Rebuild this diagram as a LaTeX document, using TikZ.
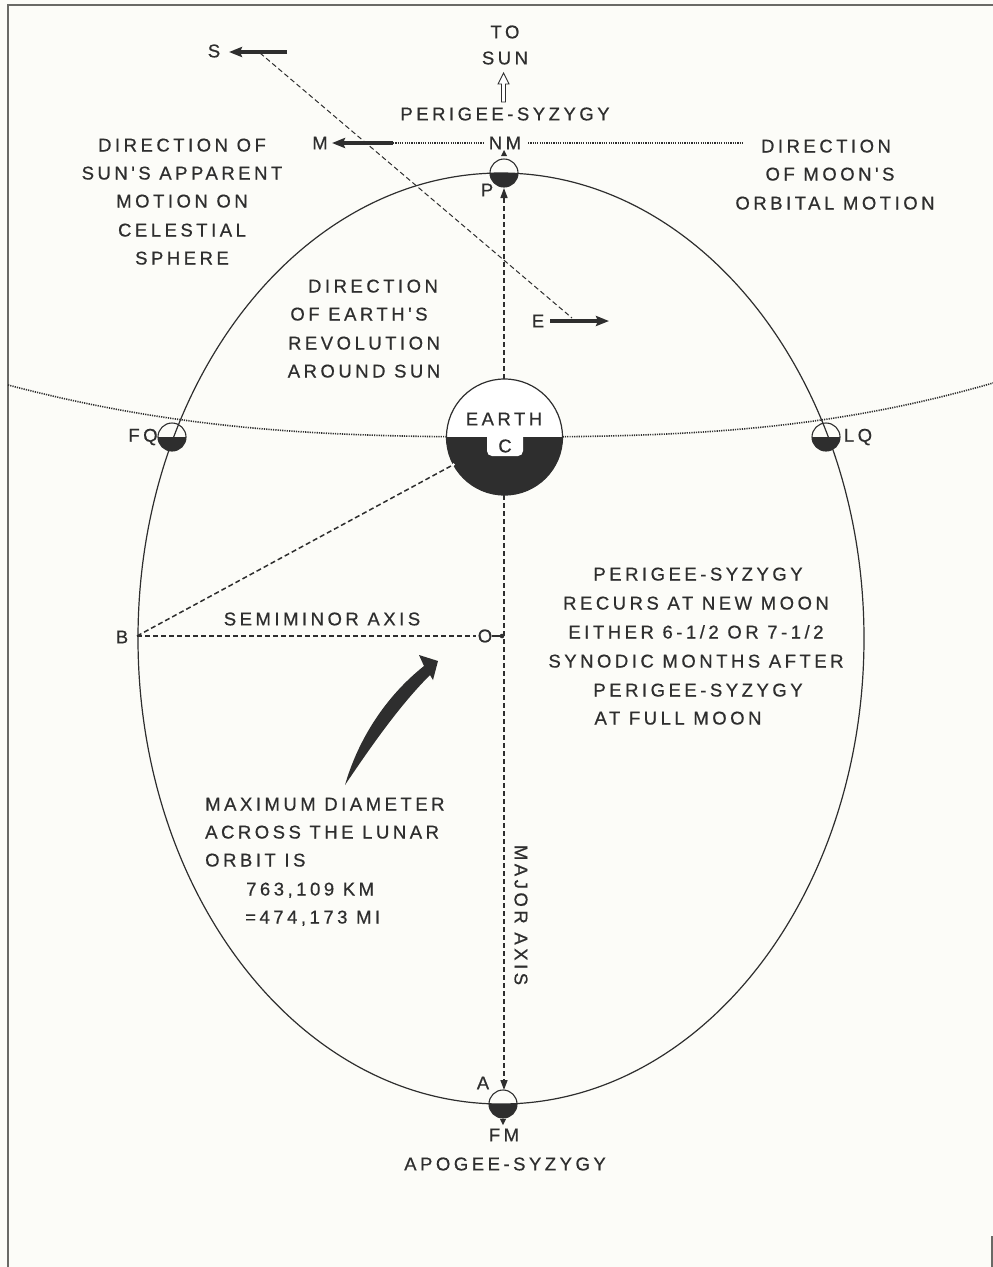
\documentclass[tikz,border=0pt]{standalone}
\usepackage{fontspec}
\setmainfont{Liberation Sans}
\newfontfamily\lab[LetterSpace=19, FakeBold=0.6]{Liberation Sans}
\usetikzlibrary{arrows.meta,calc}
\definecolor{ink}{HTML}{2E2E2E}
\definecolor{paper}{HTML}{FCFCF8}
\definecolor{frame}{HTML}{6A6A66}
\tikzset{
  lbl/.style={font=\lab\fontsize{18.5}{28}\selectfont, text=ink, inner sep=0pt},
  bl/.style={lbl, anchor=base},
  blw/.style={lbl, anchor=base west},
  orbit/.style={draw=ink, line width=1.2pt},
  dots/.style={draw=ink, line width=1.6pt, dash pattern=on 1.2pt off 1.1pt},
  axisdash/.style={draw=ink, line width=1.5pt, dash pattern=on 5pt off 3pt},
  thindash/.style={draw=ink, line width=1pt, dash pattern=on 5pt off 3pt},
  fatarrow/.style={draw=ink, line width=4.5pt, -{Stealth[length=13pt,width=10pt,inset=2pt]}},
  axtip/.style={-{Triangle[length=10pt,width=7pt]}},
}
\begin{document}
\begin{tikzpicture}[x=1pt,y=-1pt]
\fill[paper] (0,0) rectangle (993,1267);
\useasboundingbox (0,0) rectangle (993,1267);
% frame
\draw[frame, line width=1.6pt] (8,1267) -- (8,5) -- (993,5);
\draw[frame, line width=1.6pt] (992,1236) -- (992,1267);

% key coordinates
\coordinate (C) at (504.5,437);
\coordinate (Pm) at (504,173);
\coordinate (Am) at (503,1104);
\coordinate (FQm) at (172,437);
\coordinate (LQm) at (826,437);
\coordinate (B) at (137,636);
\coordinate (Odot) at (502,636);
\coordinate (Oend) at (476,636);
\coordinate (EB) at ($(C)!58pt!(B)$);
\coordinate (Etop) at (504,379);
\coordinate (Ebot) at (504,495);
\coordinate (Ptip) at (504,188);
\coordinate (Atip) at (504,1090);

% ecliptic
\draw[dots] (8,385) .. controls (180,430) and (320,437) .. (505,437)
            .. controls (690,437) and (830,430) .. (993,383);
% orbit
\draw[orbit] (501,638.5) ellipse [x radius=363pt, y radius=465.5pt];

% major axis
\draw[axisdash, axtip] (Etop) -- (Ptip);
\draw[axisdash, axtip] (Ebot) -- (Atip);
% semiminor axis and line to Earth
\draw[axisdash] (B) -- (Oend);
\draw[axisdash] (B) -- (EB);
\draw[ink, line width=1.4pt] (492,636) -- (Odot);
\fill[ink] (Odot) circle (2.3pt);

% Earth
\fill[white] (C) circle (58pt);
\fill[ink] ($(C)+(-58,0)$) arc (180:360:58pt) -- cycle;
\fill[white, rounded corners=5pt] (487,425) rectangle (523,456);
\draw[ink, line width=1.2pt] (C) circle (58pt);
\fill[white] (EB) circle (1.6pt);

% moons
\foreach \m in {Pm,Am,FQm,LQm}{
  \fill[ink] ($(\m)+(-14,0)$) arc (180:360:14pt) -- cycle;
  \draw[ink, line width=1.1pt] (\m) circle (14pt);
}
% tiny arrows at NM and FM
\fill[ink] (504,150) -- (501,156) -- (507,156) -- cycle;
\fill[ink] (503,1125) -- (500,1119) -- (506,1119) -- cycle;

% S - E line
\coordinate (Sl) at (260,53);
\coordinate (El) at (572,318);
\draw[thindash] (Sl) -- (El);

% thick arrows
\coordinate (Stail) at (287,52);
\coordinate (Stip) at (229,52);
\coordinate (Mtail) at (393,143);
\coordinate (Mtip) at (332,143);
\coordinate (Etail) at (550,321);
\coordinate (Etip2) at (609,321);
\draw[fatarrow] (Stail) -- (Stip);
\draw[fatarrow] (Mtail) -- (Mtip);
\draw[fatarrow] (Etail) -- (Etip2);

% dotted lines M - NM - direction
\draw[dots] (Mtail) -- (483,143);
\draw[dots] (528,143) -- (742,143);

% hollow arrow to sun
\draw[ink, line width=0.9pt, fill=white] (501.5,102) -- (501.5,84) -- (498,84) -- (503.5,73) -- (509,84) -- (505.5,84) -- (505.5,102) -- cycle;

% curved swoosh arrow
\fill[ink] (345,785) .. controls (358,740) and (385,697) .. (424,666)
  -- (419,655) -- (438,661) -- (433,680) -- (430,675)
  .. controls (400,705) and (372,745) .. (345,785) -- cycle;

% labels
\node[lbl] (tTO) at (505,32) {TO};
\node[lbl] (tSUN) at (505,58) {SUN};
\node[lbl] (tPS) at (505,114) {PERIGEE-SYZYGY};
\node[lbl] (tS) at (214,51) {S};
\node[lbl] (tM) at (320,143) {M};
\node[lbl] (tNM) at (505,143) {NM};
\node[lbl] (tE) at (538,321) {E};
\node[lbl] (tP) at (487,190) {P};
\node[lbl] (tA) at (483,1083) {A};
\node[lbl] (tFM) at (504,1135) {FM};
\node[lbl] (tAS) at (505,1164) {APOGEE-SYZYGY};
\node[lbl] (tFQ) at (143,437) {FQ};
\node[lbl] (tLQ) at (858,437) {LQ};
\node[lbl] (tB) at (122,637) {B};
\node[lbl] (tO) at (485,636) {O};
\node[lbl] (tC) at (505,446) {C};
\node[lbl] (tEarth) at (504,419) {EARTH};
\node[lbl] (tSemi) at (322,619) {SEMIMINOR AXIS};
\node[lbl, rotate=-90] (tMajor) at (521,915) {MAJOR AXIS};

% block 1
\node[bl] (b1a) at (182,151.5) {DIRECTION OF};
\node[bl] (b1b) at (182,179.5) {SUN'S APPARENT};
\node[bl] (b1c) at (182,207.5) {MOTION ON};
\node[bl] (b1d) at (182,236.5) {CELESTIAL};
\node[bl] (b1e) at (182,264.5) {SPHERE};
% block 2
\node[bl] (b2a) at (826,152.5) {DIRECTION};
\node[bl] (b2b) at (830,180.5) {OF MOON'S};
\node[bl] (b2c) at (835,209.5) {ORBITAL MOTION};
% block 3
\node[bl] (b3a) at (373,292.5) {DIRECTION};
\node[bl] (b3b) at (359,320.5) {OF EARTH'S};
\node[bl] (b3c) at (364,349.5) {REVOLUTION};
\node[bl] (b3d) at (364,377.5) {AROUND SUN};
% block 4
\node[bl] (b4a) at (698,580.5) {PERIGEE-SYZYGY};
\node[bl] (b4b) at (696,609.5) {RECURS AT NEW MOON};
\node[bl] (b4c) at (696,638.5) {EITHER 6-1/2 OR 7-1/2};
\node[bl] (b4d) at (696,667.5) {SYNODIC MONTHS AFTER};
\node[bl] (b4e) at (698,696.5) {PERIGEE-SYZYGY};
\node[bl] (b4f) at (678,724.5) {AT FULL MOON};
% block 5
\node[blw] (b5a) at (205,810.5) {MAXIMUM DIAMETER};
\node[blw] (b5b) at (205,838.5) {ACROSS THE LUNAR};
\node[blw] (b5c) at (205,866.5) {ORBIT IS};
\node[blw] (b5d) at (246,895.5) {763,109 KM};
\node[blw] (b5e) at (245,923.5) {=474,173 MI};
\end{tikzpicture}
\end{document}
